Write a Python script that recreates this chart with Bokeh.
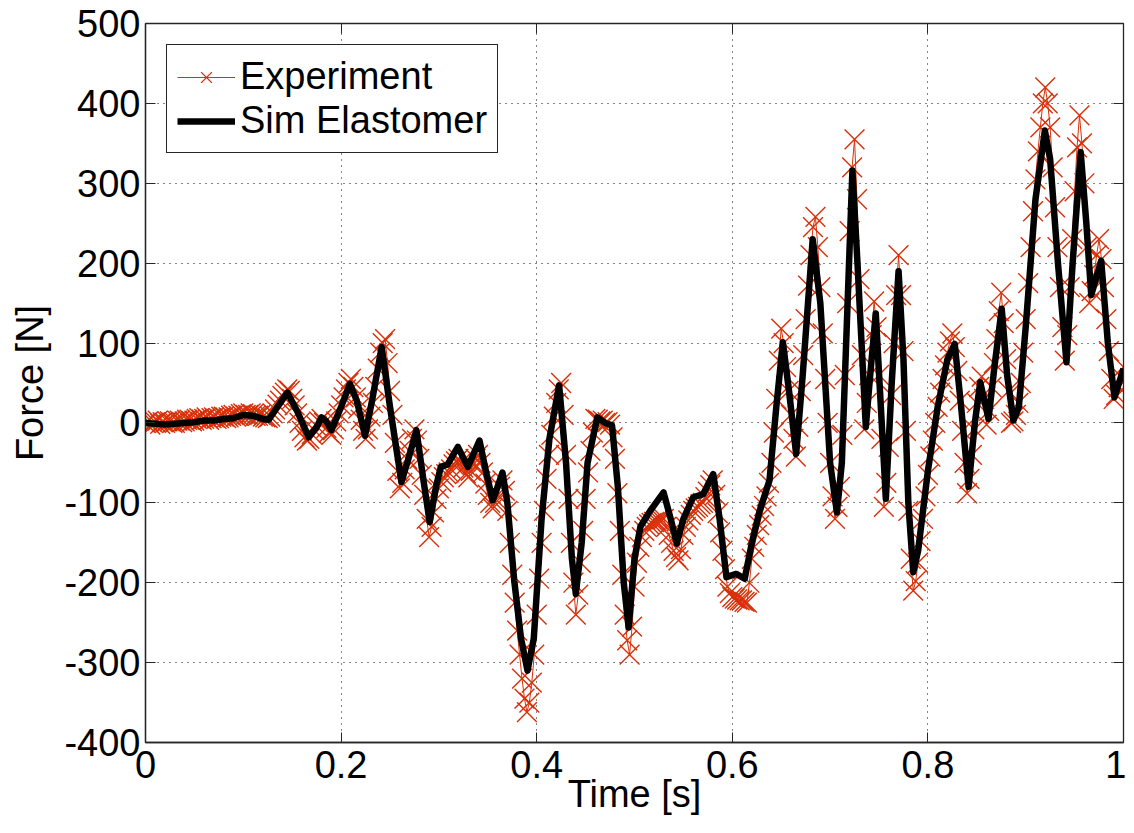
from bokeh.plotting import figure
from bokeh.models import FixedTicker, LinearAxis
from bokeh.embed import file_html
from bokeh.resources import INLINE

# ---------------- data ----------------
x_ticks = [0, 0.2, 0.4, 0.6, 0.8, 1.0]
x_tick_labels = ["0", "0.2", "0.4", "0.6", "0.8", "1"]
y_ticks = [-400, -300, -200, -100, 0, 100, 200, 300, 400, 500]
y_tick_labels = ["-400", "-300", "-200", "-100", "0", "100", "200", "300", "400", "500"]

exp_step = 0.0025
exp_force = [
    0, 2, -2, 0, 1, 3, -1, 1, 0, 2, 2, 0, 0, 3, 3, 1, 2, 4, 4, 2,
    3, 5, 6, 4, 5, 7, 4, 6, 7, 5, 6, 8, 8, 6, 7, 9, 10, 8, 9, 11,
    12, 10, 10, 12, 11, 9, 9, 10, 8, 7, 6, 8, 12, 17, 23, 28, 34, 38, 42, 40,
    30, 22, 12, 0, -10, -18, -22, -20, -14, -9, -4, 2, 5, 0, -6, -12, -15, -8, 2, 12,
    22, 32, 42, 50, 55, 45, 32, 18, 4, -10, -20, -8, 8, 25, 45, 68, 88, 100, 105, 75,
    40, 10, -25, -60, -82, -75, -58, -45, -35, -20, -8, -22, -45, -65, -90, -120, -143, -130, -112, -95,
    -82, -74, -68, -64, -62, -58, -52, -48, -45, -50, -56, -63, -68, -60, -52, -45, -40, -50, -62, -76,
    -90, -100, -107, -100, -90, -80, -72, -85, -110, -150, -190, -225, -260, -290, -320, -345, -362, -350, -325, -290,
    -240, -195, -150, -110, -70, -40, -15, 8, 25, 42, 50, 10, -40, -95, -150, -200, -240, -215, -175, -135,
    -95, -62, -35, -12, 5, 4, 2, 3, 0, 1, -2, -18, -45, -88, -135, -190, -240, -272, -290, -255,
    -205, -175, -155, -143, -135, -130, -127, -125, -124, -123, -122, -121, -120, -130, -140, -150, -160, -168, -172, -158,
    -140, -130, -122, -115, -110, -107, -105, -102, -100, -93, -86, -78, -72, -90, -113, -137, -160, -183, -205, -213,
    -218, -220, -221, -222, -222, -224, -225, -200, -170, -155, -140, -128, -116, -104, -92, -75, -50, -12, 30, 78,
    118, 100, 70, 40, 10, -20, -42, -5, 40, 85, 130, 172, 210, 245, 258, 220, 170, 112, 55, 0,
    -50, -92, -120, -105, -80, -15, 60, 150, 240, 320, 355, 280, 180, 85, -8, 25, 60, 110, 152, 120,
    60, -20, -105, -75, -30, 35, 100, 160, 210, 160, 90, -10, -110, -170, -210, -198, -175, -148, -120, -92,
    -65, -42, -22, 0, 20, 38, 55, 72, 88, 102, 112, 95, 65, 28, -10, -50, -88, -70, -40, -8,
    25, 45, 58, 30, -2, 15, 45, 75, 105, 140, 163, 125, 80, 40, 0, 2, 10, 25, 50, 88,
    130, 175, 220, 265, 305, 340, 370, 400, 420, 400, 370, 320, 270, 220, 170, 120, 78, 110, 170, 230,
    290, 345, 385, 350, 300, 220, 150, 165, 185, 210, 230, 205, 170, 130, 90, 55, 30, 35, 45, 58,
    70,
]
exp_time = [round(i * exp_step, 4) for i in range(len(exp_force))]

# Simulation (elastomer model)
sim_time = [
    0.000, 0.010, 0.020, 0.030, 0.040, 0.050, 0.060, 0.070, 0.080, 0.090,
    0.100, 0.110, 0.120, 0.126, 0.135, 0.145, 0.155, 0.167, 0.175, 0.180,
    0.185, 0.190, 0.200, 0.209, 0.216, 0.2245, 0.232, 0.2415, 0.250, 0.2617,
    0.270, 0.277, 0.284, 0.2906, 0.297, 0.302, 0.309, 0.3194, 0.3296, 0.3415,
    0.348, 0.355, 0.360, 0.365, 0.370, 0.377, 0.384, 0.3906, 0.397, 0.405,
    0.413, 0.4229, 0.430, 0.436, 0.440, 0.446, 0.452, 0.4619, 0.470, 0.477,
    0.483, 0.489, 0.494, 0.500, 0.506, 0.516, 0.5297, 0.537, 0.5432, 0.550,
    0.560, 0.5703, 0.5805, 0.587, 0.594, 0.604, 0.6127, 0.620, 0.628, 0.638,
    0.645, 0.6517, 0.658, 0.6653, 0.672, 0.6822, 0.690, 0.700, 0.707, 0.712,
    0.717, 0.7228, 0.728, 0.7365, 0.741, 0.7467, 0.751, 0.757, 0.763, 0.770,
    0.775, 0.780, 0.785, 0.790, 0.800, 0.810, 0.820, 0.8274, 0.834, 0.8416,
    0.848, 0.8535, 0.862, 0.868, 0.8755, 0.881, 0.8874, 0.893, 0.900, 0.910,
    0.9196, 0.925, 0.933, 0.9417, 0.948, 0.9562, 0.962, 0.967, 0.9772, 0.984,
    0.9908, 1.000,
]
sim_force = [
    0, -1, -2, -1, 0, 1, 3, 3, 5, 6,
    10, 9, 5, 4, 20, 38, 15, -18, -5, 7,
    2, -9, 20, 49, 28, -16, 30, 95, 20, -74,
    -40, -9, -70, -124, -80, -55, -52, -30, -55, -22,
    -60, -97, -80, -62, -100, -197, -270, -310, -270, -120,
    -20, 47, -50, -170, -214, -150, -50, 7, 0, -3,
    -80, -200, -256, -170, -130, -110, -87, -120, -151, -120,
    -93, -89, -64, -120, -193, -189, -195, -150, -110, -72,
    20, 101, 40, -39, 60, 230, 150, -50, -112, -50,
    120, 316, 200, -5, 60, 137, 40, -95, 50, 190,
    80, -100, -187, -160, -60, 20, 80, 99, 20, -80,
    0, 51, 5, 70, 143, 60, 3, 20, 120, 280,
    366, 330, 200, 76, 200, 339, 250, 160, 203, 100,
    32, 68,
]

# ---------------- styles ----------------
FONT = "Liberation Sans"
FS = "38px"
RED = "#D8300A"
FRAME = "#262626"

p = figure(
    width=1126, height=817,
    x_range=(0, 1), y_range=(-400, 500),
    output_backend="svg", toolbar_location=None,
    min_border_left=145, min_border_right=3,
    min_border_top=23, min_border_bottom=75,
    background_fill_color="white", border_fill_color="white",
)
p.outline_line_color = FRAME
p.outline_line_width = 1.3
p.outline_line_alpha = 1.0

# experiment: thin red line with x markers
p.line(exp_time, exp_force, line_color=RED, line_width=1, legend_label="Experiment")
p.scatter(exp_time, exp_force, marker="x", size=28, line_color=RED, line_width=1.4,
          legend_label="Experiment")
# simulation: thick black line
p.line(sim_time, sim_force, line_color="black", line_width=6.5, line_join="round",
       legend_label="Sim Elastomer")

xt = FixedTicker(ticks=x_ticks)
yt = FixedTicker(ticks=y_ticks)

for ax, ticker, labels in ((p.xaxis[0], xt, x_tick_labels), (p.yaxis[0], yt, y_tick_labels)):
    ax.ticker = ticker
    ax.major_label_overrides = {t: l for t, l in zip(ticker.ticks, labels)}
    ax.major_label_text_font = FONT
    ax.major_label_text_font_size = FS
    ax.major_label_text_color = "black"
    ax.axis_label_text_font = FONT
    ax.axis_label_text_font_size = FS
    ax.axis_label_text_font_style = "normal"
    ax.axis_label_text_color = "black"
    ax.major_tick_in = 10
    ax.major_tick_out = 0
    ax.minor_tick_in = 0
    ax.minor_tick_out = 0
    ax.axis_line_color = FRAME
    ax.axis_line_width = 1.3
    ax.major_tick_line_color = FRAME

p.xaxis.axis_label = "Time [s]"
p.yaxis.axis_label = "Force [N]"
p.xaxis.major_label_standoff = 8
p.xaxis.axis_label_standoff = -8
p.yaxis.major_label_standoff = 5
p.yaxis.axis_label_standoff = 10

# ticks on the top and right sides (box), without labels
for side, ticker in (("above", xt), ("right", yt)):
    ax = LinearAxis(ticker=ticker, major_label_text_font_size="1px",
                    major_label_text_color=None,
                    major_label_standoff=0, major_tick_in=10, major_tick_out=0,
                    minor_tick_in=0, minor_tick_out=0,
                    axis_line_color=FRAME, major_tick_line_color=FRAME)
    p.add_layout(ax, side)

# dotted grid
for g, ticker in ((p.xgrid[0], xt), (p.ygrid[0], yt)):
    g.ticker = ticker
    g.grid_line_color = "#111111"
    g.grid_line_alpha = 1.0
    g.grid_line_width = 1.1
    g.grid_line_dash = "1 5"

# legend
lg = p.legend[0]
lg.location = "top_left"
lg.margin = 21
lg.label_text_font = FONT
lg.label_text_font_size = FS
lg.label_text_color = "black"
lg.glyph_width = 58
lg.glyph_height = 38
lg.label_height = 38
lg.label_standoff = 5
lg.spacing = 1
lg.padding = 10
lg.border_line_color = FRAME
lg.border_line_width = 1.3
lg.border_line_alpha = 1.0
lg.background_fill_color = "white"
lg.background_fill_alpha = 1.0

open("out.html", "w").write(file_html(p, INLINE))
